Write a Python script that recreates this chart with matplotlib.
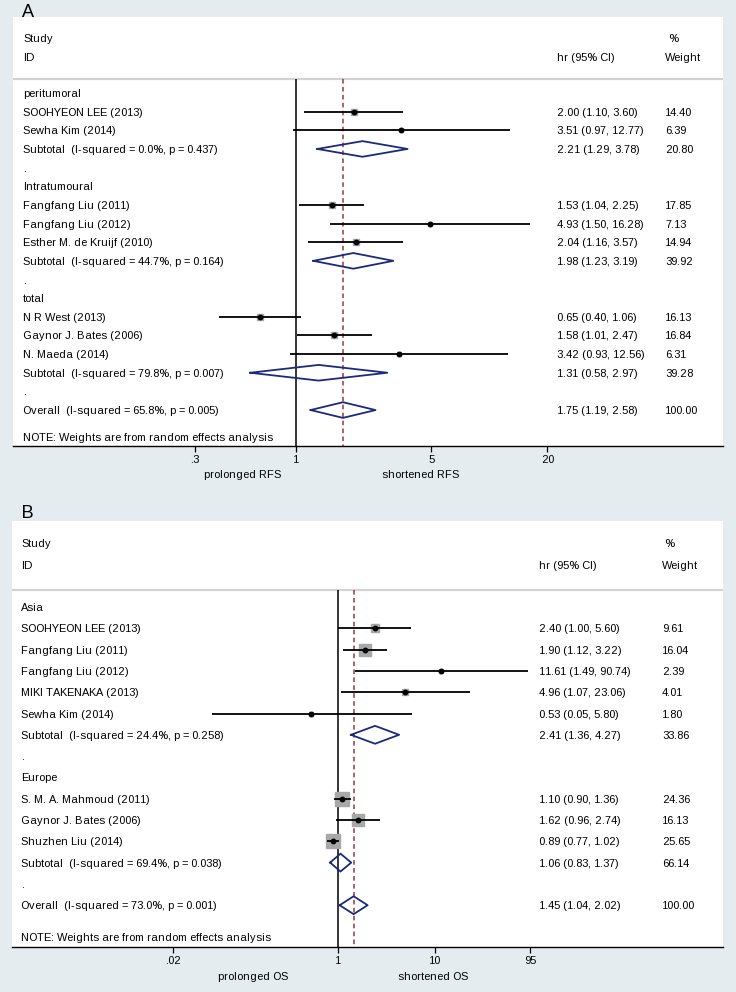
import numpy as np
import matplotlib
matplotlib.use("Agg")
import matplotlib.pyplot as plt
from matplotlib.transforms import blended_transform_factory

nan = np.nan

# panel A: recurrence-free survival
a_labels = ["peritumoral", "SOOHYEON LEE (2013)", "Sewha Kim (2014)",
            "Subtotal  (I-squared = 0.0%, p = 0.437)", ".",
            "Intratumoural", "Fangfang Liu (2011)", "Fangfang Liu (2012)",
            "Esther M. de Kruijf (2010)", "Subtotal  (I-squared = 44.7%, p = 0.164)", ".",
            "total", "N R West (2013)", "Gaynor J. Bates (2006)", "N. Maeda (2014)",
            "Subtotal  (I-squared = 79.8%, p = 0.007)", ".",
            "Overall  (I-squared = 65.8%, p = 0.005)"]
a_kind = ["head", "study", "study", "sub", "blank",
          "head", "study", "study", "study", "sub", "blank",
          "head", "study", "study", "study", "sub", "blank", "sub"]
a_hr = [nan, 2.00, 3.51, 2.21, nan, nan, 1.53, 4.93, 2.04, 1.98, nan, nan, 0.65, 1.58, 3.42, 1.31, nan, 1.75]
a_lo = [nan, 1.10, 0.97, 1.29, nan, nan, 1.04, 1.50, 1.16, 1.23, nan, nan, 0.40, 1.01, 0.93, 0.58, nan, 1.19]
a_hi = [nan, 3.60, 12.77, 3.78, nan, nan, 2.25, 16.28, 3.57, 3.19, nan, nan, 1.06, 2.47, 12.56, 2.97, nan, 2.58]
a_wt = [nan, 14.40, 6.39, 20.80, nan, nan, 17.85, 7.13, 14.94, 39.92, nan, nan, 16.13, 16.84, 6.31, 39.28, nan, 100.00]
a_ticks = [0.3, 1, 5, 20]
a_ticklabels = [".3", "1", "5", "20"]

# panel B: overall survival
b_labels = ["Asia", "SOOHYEON LEE (2013)", "Fangfang Liu (2011)", "Fangfang Liu (2012)",
            "MIKI TAKENAKA (2013)", "Sewha Kim (2014)",
            "Subtotal  (I-squared = 24.4%, p = 0.258)", ".",
            "Europe", "S. M. A. Mahmoud (2011)", "Gaynor J. Bates (2006)", "Shuzhen Liu (2014)",
            "Subtotal  (I-squared = 69.4%, p = 0.038)", ".",
            "Overall  (I-squared = 73.0%, p = 0.001)"]
b_kind = ["head", "study", "study", "study", "study", "study", "sub", "blank",
          "head", "study", "study", "study", "sub", "blank", "sub"]
b_hr = [nan, 2.40, 1.90, 11.61, 4.96, 0.53, 2.41, nan, nan, 1.10, 1.62, 0.89, 1.06, nan, 1.45]
b_lo = [nan, 1.00, 1.12, 1.49, 1.07, 0.05, 1.36, nan, nan, 0.90, 0.96, 0.77, 0.83, nan, 1.04]
b_hi = [nan, 5.60, 3.22, 90.74, 23.06, 5.80, 4.27, nan, nan, 1.36, 2.74, 1.02, 1.37, nan, 2.02]
b_wt = [nan, 9.61, 16.04, 2.39, 4.01, 1.80, 33.86, nan, nan, 24.36, 16.13, 25.65, 66.14, nan, 100.00]
b_ticks = [0.02, 1, 10, 95]
b_ticklabels = [".02", "1", "10", "95"]

W, H = 736, 992
BG = "#e4ecf0"
NAVY = "#1b2a7a"
MAROON = "#953a40"
FS = 8.1
plt.rcParams['font.family'] = ['Liberation Sans', 'DejaVu Sans']
plt.rcParams['font.size'] = FS
plt.rcParams['text.hinting'] = 'auto'
plt.rcParams['text.hinting_factor'] = 1

# half cap height in pixels, used to put text baselines so caps sit centred on a row
HALF_CAP = FS * 100 / 72 * 0.716 / 2

fig = plt.figure(figsize=(W / 100, H / 100), dpi=100, facecolor=BG)


def fx(px):
    return px / W


def fy(py):
    return 1 - py / H


def panel(letter, letter_base, box, x1px, pxln, row0, rowh, head_y, sep_y, note_y,
          labels, kinds, hr, lo, hi, wt, ticks, ticklabels,
          cols, subs, boxk):
    left, top, right, bottom = box
    ax = fig.add_axes([fx(left), fy(bottom), fx(right) - fx(left), fy(top) - fy(bottom)])
    ax.set_facecolor('white')
    ax.set_xscale('log')
    ax.set_xlim(np.exp((left - x1px) / pxln), np.exp((right - x1px) / pxln))
    r = lambda py: (py - row0) / rowh
    ybot, ytop = r(bottom), r(top)
    ax.set_ylim(ybot, ytop)
    for s in ['top', 'left', 'right']:
        ax.spines[s].set_visible(False)
    ax.spines['bottom'].set_linewidth(1.0)
    ax.set_yticks([])
    ax.set_xticks(ticks)
    ax.set_xticklabels(ticklabels)
    ax.xaxis.set_minor_locator(matplotlib.ticker.NullLocator())
    ax.tick_params(axis='x', length=4.3, width=0.9, pad=2, labelsize=FS)

    tr = blended_transform_factory(fig.transFigure, ax.transData)
    lab_x, ci_x, wt_x, pct_x = cols
    off = HALF_CAP / rowh

    def put(x, row, s):
        ax.text(fx(x), row + off, s, transform=tr, va='baseline')

    # header
    put(lab_x, r(head_y[0]), "Study")
    put(lab_x, r(head_y[1]), "ID")
    put(pct_x, r(head_y[0]), "%")
    put(ci_x, r(head_y[1]), "hr (95% CI)")
    put(wt_x, r(head_y[1]), "Weight")
    ax.axhline(r(sep_y), color='#d2d2d2', lw=1.6)

    ax.vlines(1, r(sep_y), ybot, color='black', lw=1.1, zorder=2)
    ov = hr[-1]
    ax.vlines(ov, r(sep_y), ybot, color=MAROON, lw=1.1, linestyles=(0, (3, 2.2)), zorder=2)

    for i, lab in enumerate(labels):
        put(lab_x, i, lab)
        k = kinds[i]
        if k == 'study':
            side = boxk * np.sqrt(wt[i]) * 0.72
            ax.plot([hr[i]], [i], marker='s', ms=side, color='#a8a8a8', mec='#a8a8a8', zorder=3)
            ax.hlines(i, lo[i], hi[i], color='black', lw=1.3, zorder=4)
            ax.plot([hr[i]], [i], marker='o', ms=3.2, color='black', zorder=5)
        elif k == 'sub':
            h = 0.42
            ax.plot([lo[i], hr[i], hi[i], hr[i], lo[i]], [i, i - h, i, i + h, i],
                    color=NAVY, lw=1.3, zorder=4)
        if k in ('study', 'sub'):
            put(ci_x, i, f"{hr[i]:.2f} ({lo[i]:.2f}, {hi[i]:.2f})")
            put(wt_x, i, f"{wt[i]:.2f}")

    put(lab_x, r(note_y), "NOTE: Weights are from random effects analysis")

    fig.text(fx(22), fy(letter_base), letter, fontsize=13, va='baseline')
    (p_x, s_x, s_y, p_txt, s_txt) = subs
    fig.text(fx(p_x), fy(s_y), p_txt, ha='center', va='center')
    fig.text(fx(s_x), fy(s_y), s_txt, ha='center', va='center')
    return ax


panel("A", 17, (13, 17, 723, 446), 296, 83.9, 93, 18.65, (38, 57), 79, 437,
      a_labels, a_kind, a_hr, a_lo, a_hi, a_wt, a_ticks, a_ticklabels,
      (23, 557, 665, 668), (242, 420, 475, "prolonged RFS", "shortened RFS"), 1.5)

panel("B", 518, (12, 521, 723, 947), 338, 42.1, 607, 21.3, (543, 565), 590, 937,
      b_labels, b_kind, b_hr, b_lo, b_hi, b_wt, b_ticks, b_ticklabels,
      (21, 539, 662, 664), (253, 433, 977, "prolonged OS", "shortened OS"), 2.8)

fig.savefig("out.png", dpi=100, facecolor=BG)
